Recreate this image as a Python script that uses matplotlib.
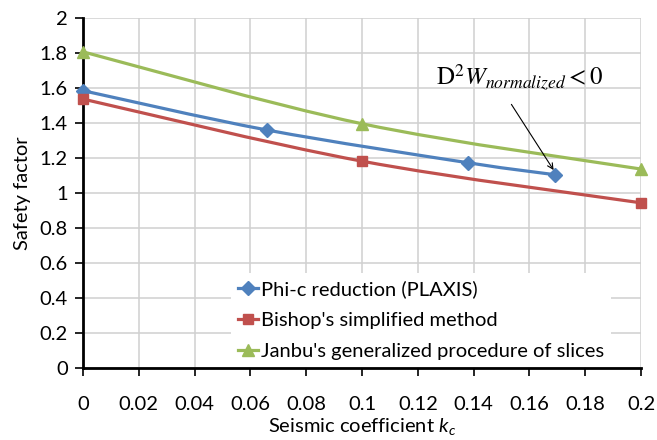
import numpy as np
import matplotlib
matplotlib.use('Agg')
import matplotlib.pyplot as plt
from matplotlib.path import Path
from matplotlib.patches import PathPatch
from matplotlib.lines import Line2D
from matplotlib.ticker import FuncFormatter

# data
kc_phic = [0.0, 0.066, 0.138, 0.169]
fs_phic = [1.585, 1.36, 1.173, 1.105]
kc_bishop = [0.0, 0.1, 0.2]
fs_bishop = [1.537, 1.182, 0.944]
kc_janbu = [0.0, 0.1, 0.2]
fs_janbu = [1.807, 1.396, 1.137]
labels = ['Phi-c reduction (PLAXIS)', "Bishop's simplified method",
          "Janbu's generalized procedure of slices"]
colors = ['#4F81BD', '#C0504D', '#9BBB59']
markers = ['D', 's', '^']
msizes = [7, 7, 8]

plt.rcParams['font.family'] = ['Lato', 'DejaVu Sans']
plt.rcParams['mathtext.fontset'] = 'custom'
plt.rcParams['mathtext.rm'] = 'Lato'
plt.rcParams['mathtext.it'] = 'Lato:italic'


def smooth_path(x, y):
    # excel style smoothed line as cubic bezier segments
    p = np.column_stack([x, y])
    n = len(p)
    verts = [p[0]]
    codes = [Path.MOVETO]
    for i in range(n - 1):
        p0 = p[i - 1] if i > 0 else p[i]
        p3 = p[i + 2] if i + 2 < n else p[i + 1]
        c1 = p[i] + (p[i + 1] - p0) / 6.0
        c2 = p[i + 1] - (p3 - p[i]) / 6.0
        verts += [c1, c2, p[i + 1]]
        codes += [Path.CURVE4] * 3
    return Path(verts, codes)


fig = plt.figure(figsize=(6.57, 4.40), dpi=100)
ax = fig.add_axes([0.1263, 0.1636, 0.8494, 0.7954])

series = [(kc_phic, fs_phic), (kc_bishop, fs_bishop), (kc_janbu, fs_janbu)]
handles = []
for (xs, ys), c, m, ms, lab in zip(series, colors, markers, msizes, labels):
    ax.add_patch(PathPatch(smooth_path(xs, ys), fill=False, edgecolor=c,
                           lw=2.3, zorder=3, capstyle='round'))
    ax.plot(xs, ys, ls='none', marker=m, color=c, ms=ms, zorder=4, clip_on=False)
    handles.append(Line2D([], [], color=c, lw=2.3, marker=m, ms=ms, label=lab))

ax.set_xlim(0, 0.2)
ax.set_ylim(0, 2)
ax.set_xticks(np.arange(0, 0.2001, 0.02))
ax.set_yticks(np.arange(0, 2.001, 0.2))
fmt = FuncFormatter(lambda v, pos: '{:g}'.format(round(v, 4)))
ax.xaxis.set_major_formatter(fmt)
ax.yaxis.set_major_formatter(fmt)
ax.grid(True, color='#D0D0D0', lw=1.1)
ax.set_axisbelow(True)
for s in ['top', 'right']:
    ax.spines[s].set_visible(False)
ax.spines['left'].set_linewidth(2)
ax.spines['bottom'].set_linewidth(2)
ax.tick_params(axis='both', direction='out', length=6, width=1.2, labelsize=14.5)
ax.tick_params(axis='x', pad=14)
ax.tick_params(axis='y', pad=5)

ax.set_xlabel('Seismic coefficient $\\mathit{k_c}$', fontsize=14.5, labelpad=2)
ax.set_ylabel('Safety factor', fontsize=14.5, labelpad=6)

leg = ax.legend(handles=handles, loc='lower left', bbox_to_anchor=(0.265, 0.002),
                frameon=True, fontsize=14.5, handlelength=1.0, handletextpad=0.15,
                labelspacing=0.7, borderpad=0.35, borderaxespad=0, fancybox=False)
leg.get_frame().set_facecolor('white')
leg.get_frame().set_edgecolor('none')
leg.get_frame().set_alpha(1)

ax.text(0.1265, 1.61, r'$\mathrm{D}^2W_{normalized} < 0$', fontsize=18,
        ha='left', va='baseline', zorder=6, math_fontfamily='stix')
ax.annotate('', xy=(0.1692, 1.118), xytext=(0.153, 1.52),
            arrowprops=dict(arrowstyle='->', color='black', lw=0.8), zorder=6)

fig.savefig('out.png', dpi=100)
